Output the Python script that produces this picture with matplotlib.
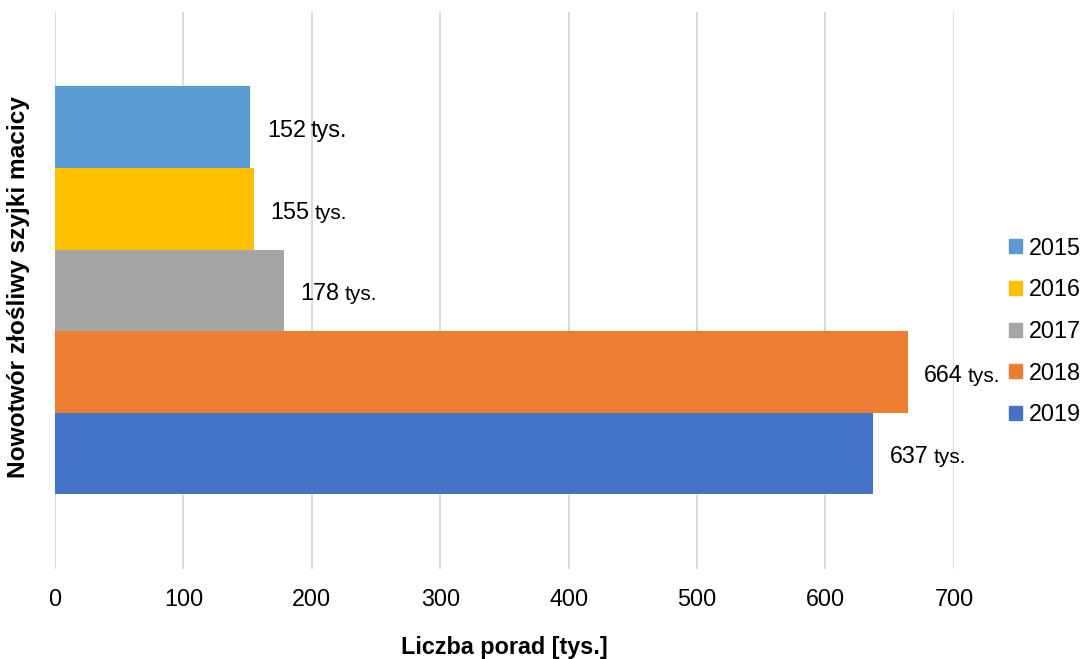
import matplotlib
matplotlib.use("Agg")
import matplotlib.pyplot as plt
import numpy as np

plt.rcParams['font.family'] = ['Liberation Sans', 'DejaVu Sans']

# dane
lata = ['2015', '2016', '2017', '2018', '2019']
porady = [152, 155, 178, 664, 637]
kolory = ['#5B9BD5', '#FFC000', '#A5A5A5', '#ED7D31', '#4472C4']
maly_tys = [False, True, True, True, True]
kategoria = 'Nowotwór złośliwy szyjki macicy'
os_x = 'Liczba porad [tys.]'

fig = plt.figure(figsize=(10.83, 6.59), dpi=100)
ax = fig.add_axes([0.0508, 0.1366, 0.8300, 0.8452])

y = np.arange(len(lata))
bary = ax.barh(y, porady, height=1.0, color=kolory, label=lata)

ax.set_xlim(0, 700)
ax.set_ylim(4.5 + 0.913, -0.5 - 0.913)
ax.set_xticks(range(0, 701, 100))
ax.set_yticks([])
ax.grid(axis='x', color='#D9D9D9', linewidth=1.3)
ax.set_axisbelow(True)
for s in ax.spines.values():
    s.set_visible(False)
ax.tick_params(axis='x', length=0, pad=14, labelsize=16.8, labelcolor='#000000')

ax.set_xlabel(os_x, fontsize=16.8, fontweight='bold', labelpad=18)
fig.text(0.0175, 0.565, kategoria, rotation=90, fontsize=17.6, fontweight='bold',
         ha='center', va='center')

uchwyty = [plt.Rectangle((0, 0), 1, 1, color=c) for c in kolory]
fig.legend(uchwyty, lata, loc='center left', bbox_to_anchor=(0.932, 0.497),
           frameon=False, fontsize=16.8, handlelength=0.55, handleheight=0.55,
           handletextpad=0.3, labelspacing=0.8, borderpad=0, borderaxespad=0)

# etykiety: liczba + "tys." na wspolnej linii bazowej
fig.canvas.draw()
r = fig.canvas.get_renderer()
for i, v in enumerate(porady):
    yb = y[i] + 0.12
    t = ax.text(v + 13, yb, str(v), fontsize=16.8, va='baseline', ha='left')
    bb = t.get_window_extent(r)
    x0 = ax.transData.inverted().transform((bb.x1 + 5, bb.y0))[0]
    ax.text(x0, yb, 'tys.', fontsize=15 if maly_tys[i] else 16.8,
            va='baseline', ha='left')

fig.savefig('out.png', dpi=100)
